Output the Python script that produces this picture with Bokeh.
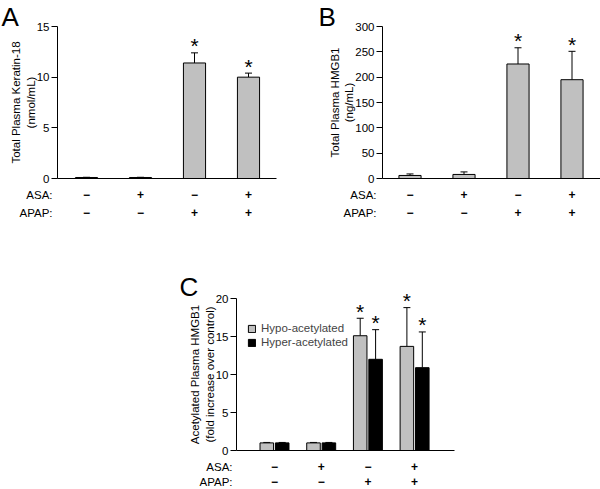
from bokeh.plotting import figure
from bokeh.models import (Range1d, FixedTicker, Whisker, TeeHead, ColumnDataSource, Label,
                          Spacer, LinearAxis)
from bokeh.layouts import column, row
from bokeh.core.properties import value
from bokeh.embed import file_html
from bokeh.resources import INLINE

FONT = "Liberation Sans"
FS = "11.5px"

# ---------------- data ----------------
categories = [1, 2, 3, 4]
asa = ["\u2212", "+", "\u2212", "+"]
apap = ["\u2212", "\u2212", "+", "+"]

a_vals = [0.1, 0.1, 11.4, 10.0]
a_err = [0.02, 0.02, 1.0, 0.4]
a_sig = [False, False, True, True]
a_ticks = [0, 5, 10, 15]

b_vals = [6, 8, 226, 195]
b_err = [3, 5, 32, 56]
b_sig = [False, False, True, True]
b_ticks = [0, 50, 100, 150, 200, 250, 300]

c_hypo = [1.0, 1.0, 15.1, 13.7]
c_hypo_err = [0.06, 0.06, 2.3, 5.1]
c_hyper = [1.0, 1.0, 12.0, 10.9]
c_hyper_err = [0.06, 0.06, 3.9, 4.7]
c_sig = [False, False, True, True]
c_ticks = [0, 5, 10, 15, 20]

GRAY = "#c0c0c0"


def panel(W, H, x0_px, dx, axis_px, axis_end_px, y0_px, ytop_px, ymax, ticks, ylabel):
    """Figure whose frame covers the whole panel; axes are pinned inside it."""
    xr = (1 - x0_px / dx, 1 + (W - x0_px) / dx)
    ppu = (y0_px - ytop_px) / ymax
    yr = (-(H - y0_px) / ppu, y0_px / ppu)
    axis_x = 1 - (x0_px - axis_px) / dx
    axis_end = 1 + (axis_end_px - x0_px) / dx
    p = figure(width=W, height=H, x_range=Range1d(*xr), y_range=Range1d(*yr),
               x_axis_location=None, y_axis_location=None,
               output_backend="svg", toolbar_location=None, min_border=0)
    p.outline_line_color = None
    p.background_fill_color = "white"
    p.border_fill_color = "white"
    ya = LinearAxis(fixed_location=axis_x, bounds=(0, ymax), ticker=FixedTicker(ticks=ticks))
    ya.major_tick_out = 6
    ya.major_tick_in = 0
    ya.minor_tick_line_color = None
    ya.axis_line_color = "black"
    ya.major_tick_line_color = "black"
    ya.major_label_text_font = FONT
    ya.major_label_text_font_size = FS
    ya.major_label_text_color = "black"
    ya.major_label_standoff = 2
    ya.axis_label = ylabel
    ya.axis_label_text_font = FONT
    ya.axis_label_text_font_size = FS
    ya.axis_label_text_font_style = "normal"
    ya.axis_label_text_color = "black"
    ya.axis_label_standoff = -3
    p.add_layout(ya, "left")
    xa = LinearAxis(fixed_location=0, bounds=(axis_x, axis_end), ticker=FixedTicker(ticks=[]))
    xa.major_tick_line_color = None
    xa.minor_tick_line_color = None
    xa.major_label_text_font_size = "0px"
    xa.axis_line_color = "black"
    p.add_layout(xa, "below")
    p.grid.visible = False
    return p, axis_x


def add_rows(p, axis_x, label_dx, dy1, dy2):
    for lbl, syms, dy in (("ASA:", asa, dy1), ("APAP:", apap, dy2)):
        p.text(x=[axis_x], y=[0], text=[lbl], x_offset=label_dx, y_offset=dy,
               text_align="right", text_baseline="middle",
               text_font=value(FONT), text_font_size=FS, text_color="black")
        p.text(x=categories, y=[0] * len(categories), text=syms, y_offset=dy,
               text_align="center", text_baseline="middle",
               text_font=value(FONT), text_font_size="12px", text_font_style="bold",
               text_color="black")


def add_letter(p, H, letter, lx, ly):
    p.add_layout(Label(x=lx, y=H - ly, x_units="screen", y_units="screen", text=letter,
                       text_align="left", text_baseline="alphabetic",
                       text_font=FONT, text_font_size="26px", text_color="black"))


def add_bars(p, xs, vals, errs, sig, width, color, legend=None):
    kw = dict(legend_label=legend) if legend else {}
    p.vbar(x=xs, top=vals, width=width, fill_color=color, line_color="black", line_width=1, **kw)
    upper = [v + e for v, e in zip(vals, errs)]
    src = ColumnDataSource(dict(x=xs, top=vals, upper=upper))
    p.add_layout(Whisker(source=src, base="x", lower="top", upper="upper", dimension="height",
                         line_color="black", line_width=1, lower_head=None,
                         upper_head=TeeHead(size=7, line_color="black", line_width=1)))
    sx = [x for x, s in zip(xs, sig) if s]
    sy = [u for u, s in zip(upper, sig) if s]
    p.text(x=sx, y=sy, text=["*"] * len(sx), text_font=value(FONT), text_font_size="21px",
           text_align="center", text_baseline="alphabetic", y_offset=-7, text_color="black")


# ---------------- Panel A ----------------
pA, axA = panel(300, 240, 86, 54, 57, 276, 178, 26, 15, a_ticks,
                "Total Plasma Keratin-18\n(nmol/mL)")
add_bars(pA, categories, a_vals, a_err, a_sig, 0.41, GRAY)
add_rows(pA, axA, -5, 16, 34)
add_letter(pA, 240, "A", 1, 16)

# ---------------- Panel B ----------------
pB, axB = panel(300, 240, 109.5, 54, 82, 300, 178, 26, 300, b_ticks,
                "Total Plasma HMGB1\n(ng/mL)")
add_bars(pB, categories, b_vals, b_err, b_sig, 0.41, GRAY)
add_rows(pB, axB, -6, 16, 34)
add_letter(pB, 240, "B", 18, 16)

# ---------------- Panel C ----------------
pC, axC = panel(450, 249, 124, 46.7, 86, 304, 210, 58, 20, c_ticks,
                "Acetylated Plasma HMGB1\n(fold increase over control)")
dodge = 0.165
add_bars(pC, [c - dodge for c in categories], c_hypo, c_hypo_err, c_sig, 0.29, GRAY, "Hypo-acetylated")
add_bars(pC, [c + dodge for c in categories], c_hyper, c_hyper_err, c_sig, 0.29, "black", "Hyper-acetylated")
add_rows(pC, axC, -4, 16, 31)
add_letter(pC, 249, "C", 29, 46)

lg = pC.legend[0]
lg.location = (97, 141)
lg.border_line_color = None
lg.background_fill_alpha = 0
lg.glyph_width = 9
lg.glyph_height = 9
lg.label_height = 9
lg.label_standoff = 5
lg.spacing = 2
lg.padding = 0
lg.margin = 0
lg.label_text_font = FONT
lg.label_text_font_size = FS

layout = column(row(pA, pB), row(Spacer(width=150, height=249), pC))

open("out.html", "w").write(file_html(layout, INLINE))
